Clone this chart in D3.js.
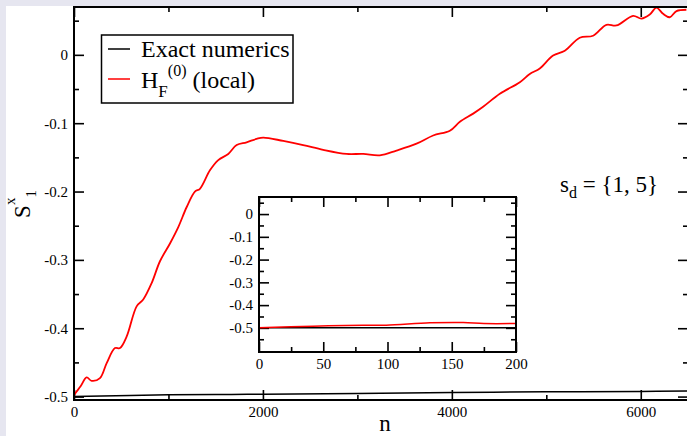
<!DOCTYPE html>
<html>
<head>
<meta charset="utf-8">
<script src="https://cdn.jsdelivr.net/npm/d3@7"></script>
<style>
  body { margin: 0; background: #e6e6f0; }
  svg { display: block; font-family: "Liberation Serif", "Times New Roman", serif; }
</style>
</head>
<body>
<svg id="chart" width="687" height="436"></svg>
<script>
// main panel data
const mainRedN = [0, 10, 70, 134, 187, 275, 346, 434, 487, 558, 663, 733, 822, 910, 1016, 1104, 1192, 1280, 1333, 1439, 1527, 1633, 1722, 1827, 1933, 2003, 2215, 2426, 2638, 2886, 3061, 3238, 3414, 3626, 3802, 3979, 4085, 4226, 4331, 4508, 4720, 4825, 4931, 5072, 5196, 5354, 5495, 5636, 5742, 5918, 6007, 6095, 6166, 6236, 6307, 6378, 6483];
const mainRedS = [-0.5, -0.496, -0.485, -0.472, -0.477, -0.473, -0.451, -0.429, -0.429, -0.412, -0.368, -0.358, -0.334, -0.302, -0.276, -0.252, -0.223, -0.2, -0.196, -0.169, -0.154, -0.145, -0.132, -0.128, -0.123, -0.121, -0.126, -0.132, -0.139, -0.145, -0.145, -0.147, -0.140, -0.130, -0.118, -0.111, -0.098, -0.086, -0.076, -0.057, -0.040, -0.028, -0.020, -0.001, 0.006, 0.025, 0.028, 0.044, 0.043, 0.057, 0.053, 0.059, 0.069, 0.060, 0.055, 0.064, 0.066];
const mainBlackN = [0, 1000, 2000, 3000, 4000, 5000, 6000, 6500];
const mainBlackS = [-0.5, -0.4975, -0.4965, -0.4955, -0.494, -0.493, -0.4925, -0.492];

// inset data
const insetRedN = [0, 42, 81, 99, 133, 159, 175, 200];
const insetRedS = [-0.5, -0.4927, -0.488, -0.488, -0.478, -0.4765, -0.481, -0.481];
const insetBlackN = [0, 200];
const insetBlackS = [-0.5, -0.5];

// ticks
const mainXMajor = [0, 2000, 4000, 6000];
const mainXMinor = [1000, 3000, 5000];
const mainYMajor = [0, -0.1, -0.2, -0.3, -0.4, -0.5];
const mainYMinor = [0.05, -0.05, -0.15, -0.25, -0.35, -0.45];
const insetXMajor = [0, 50, 100, 150, 200];
const insetXMinor = [25, 75, 125, 175];
const insetYMajor = [0, -0.1, -0.2, -0.3, -0.4, -0.5];
const insetYMinor = [0.05, -0.05, -0.15, -0.25, -0.35, -0.45, -0.55];

const legendLabels = ["Exact numerics", "H_F^(0) (local)"];
const seriesColors = ["#000000", "#ff0000"];

const svg = d3.select("#chart");

svg.append("rect")
  .attr("x", 6).attr("y", 6)
  .attr("width", 681).attr("height", 430)
  .attr("fill", "#ffffff");

function zip(ns, vs) { return ns.map((n, i) => [n, vs[i]]); }

// plain hyphen as minus, like the original plot
function fmt(d) { return d === 0 ? "0" : d.toFixed(1).replace("\u2212", "-"); }

// draws a framed panel with inward ticks on all four sides
function drawPanel(x, y, o) {
  const g = svg.append("g");
  const [x0, x1] = x.range();
  const [y0, y1] = y.range(); // y0 bottom, y1 top

  g.append("rect")
    .attr("x", x0).attr("y", y1)
    .attr("width", x1 - x0).attr("height", y0 - y1)
    .attr("fill", "#fff");

  const tickStyle = sel => {
    sel.select(".domain").remove();
    sel.selectAll(".tick line").attr("stroke", "#000").attr("stroke-width", 1.6);
    sel.selectAll("text").attr("fill", "#000").style("font-size", "15px").style("font-family", "Liberation Serif, serif");
  };

  // bottom
  g.append("g").attr("transform", `translate(0,${y0})`)
    .call(d3.axisBottom(x).tickValues(o.xMajor).tickSizeInner(-10).tickSizeOuter(0).tickPadding(6).tickFormat(d3.format("d")))
    .call(tickStyle);
  g.append("g").attr("transform", `translate(0,${y0})`)
    .call(d3.axisBottom(x).tickValues(o.xMinor).tickSizeInner(-5).tickSizeOuter(0).tickFormat(""))
    .call(tickStyle);
  // top
  g.append("g").attr("transform", `translate(0,${y1})`)
    .call(d3.axisTop(x).tickValues(o.xMajor).tickSizeInner(-10).tickSizeOuter(0).tickFormat(""))
    .call(tickStyle);
  g.append("g").attr("transform", `translate(0,${y1})`)
    .call(d3.axisTop(x).tickValues(o.xMinor).tickSizeInner(-5).tickSizeOuter(0).tickFormat(""))
    .call(tickStyle);
  // left
  g.append("g").attr("transform", `translate(${x0},0)`)
    .call(d3.axisLeft(y).tickValues(o.yMajor).tickSizeInner(-10).tickSizeOuter(0).tickPadding(6).tickFormat(fmt))
    .call(tickStyle);
  g.append("g").attr("transform", `translate(${x0},0)`)
    .call(d3.axisLeft(y).tickValues(o.yMinor).tickSizeInner(-5).tickSizeOuter(0).tickFormat(""))
    .call(tickStyle);
  // right
  g.append("g").attr("transform", `translate(${x1},0)`)
    .call(d3.axisRight(y).tickValues(o.yMajor).tickSizeInner(-10).tickSizeOuter(0).tickFormat(""))
    .call(tickStyle);
  g.append("g").attr("transform", `translate(${x1},0)`)
    .call(d3.axisRight(y).tickValues(o.yMinor).tickSizeInner(-5).tickSizeOuter(0).tickFormat(""))
    .call(tickStyle);

  const clipId = "clip" + o.id;
  svg.append("clipPath").attr("id", clipId)
    .append("rect").attr("x", x0).attr("y", y1).attr("width", x1 - x0).attr("height", y0 - y1);

  const line = d3.line().x(d => x(d[0])).y(d => y(d[1])).curve(d3.curveCatmullRom.alpha(0.5));
  const lines = g.append("g").attr("clip-path", `url(#${clipId})`);
  o.series.forEach(s => {
    lines.append("path")
      .datum(s.data)
      .attr("fill", "none")
      .attr("stroke", s.color)
      .attr("stroke-width", s.width)
      .attr("stroke-linejoin", "round")
      .attr("d", line);
  });

  g.append("rect")
    .attr("x", x0).attr("y", y1)
    .attr("width", x1 - x0).attr("height", y0 - y1)
    .attr("fill", "none").attr("stroke", "#000").attr("stroke-width", 2);
  return g;
}

// main panel
const x = d3.scaleLinear().domain([0, 6500]).range([74, 688]);
const y = d3.scaleLinear().domain([-0.505, 0.07]).range([400, 7]);

drawPanel(x, y, {
  id: "main",
  xMajor: mainXMajor, xMinor: mainXMinor, yMajor: mainYMajor, yMinor: mainYMinor,
  series: [
    { data: zip(mainBlackN, mainBlackS), color: seriesColors[0], width: 1.5 },
    { data: zip(mainRedN, mainRedS), color: seriesColors[1], width: 1.8 }
  ]
});

// axis titles
svg.append("text")
  .attr("x", 385).attr("y", 431)
  .attr("text-anchor", "middle")
  .style("font-size", "23px")
  .text("n");

const yl = svg.append("text")
  .attr("transform", "translate(30,204) rotate(-90)")
  .attr("text-anchor", "middle")
  .style("font-size", "23px");
yl.append("tspan").text("S");
yl.append("tspan").attr("dy", -15).style("font-size", "15px").text("x");
yl.append("tspan").attr("dy", 21).style("font-size", "15px").text("1");

// legend
const legend = svg.append("g");
legend.append("rect")
  .attr("x", 101.5).attr("y", 35)
  .attr("width", 191.5).attr("height", 68)
  .attr("fill", "#fff").attr("stroke", "#000").attr("stroke-width", 1.5);

[49, 79].forEach((ly, i) => {
  legend.append("line")
    .attr("x1", 108).attr("x2", 130)
    .attr("y1", ly).attr("y2", ly)
    .attr("stroke", seriesColors[i]).attr("stroke-width", 1.5);
});

legend.append("text")
  .attr("x", 141).attr("y", 57)
  .style("font-size", "24px")
  .text(legendLabels[0]);

const hf = legend.append("text")
  .attr("x", 141).attr("y", 88)
  .style("font-size", "24px");
hf.append("tspan").text("H");
hf.append("tspan").attr("dy", 9).style("font-size", "17px").text("F");
hf.append("tspan").attr("dy", -21).style("font-size", "16px").text("(0)");
hf.append("tspan").attr("dy", 12).text(" (local)");

// annotation
const ann = svg.append("text")
  .attr("x", 560).attr("y", 192)
  .style("font-size", "23px");
ann.append("tspan").text("s");
ann.append("tspan").attr("dy", 6).style("font-size", "16px").text("d");
ann.append("tspan").attr("dy", -6).text(" = {1, 5}");

// inset panel
const xi = d3.scaleLinear().domain([0, 200]).range([259, 516]);
const yi = d3.scaleLinear().domain([-0.606, 0.075]).range([352, 197]);

drawPanel(xi, yi, {
  id: "inset",
  xMajor: insetXMajor, xMinor: insetXMinor, yMajor: insetYMajor, yMinor: insetYMinor,
  series: [
    { data: zip(insetBlackN, insetBlackS), color: seriesColors[0], width: 1.5 },
    { data: zip(insetRedN, insetRedS), color: seriesColors[1], width: 1.5 }
  ]
});
</script>
</body>
</html>
